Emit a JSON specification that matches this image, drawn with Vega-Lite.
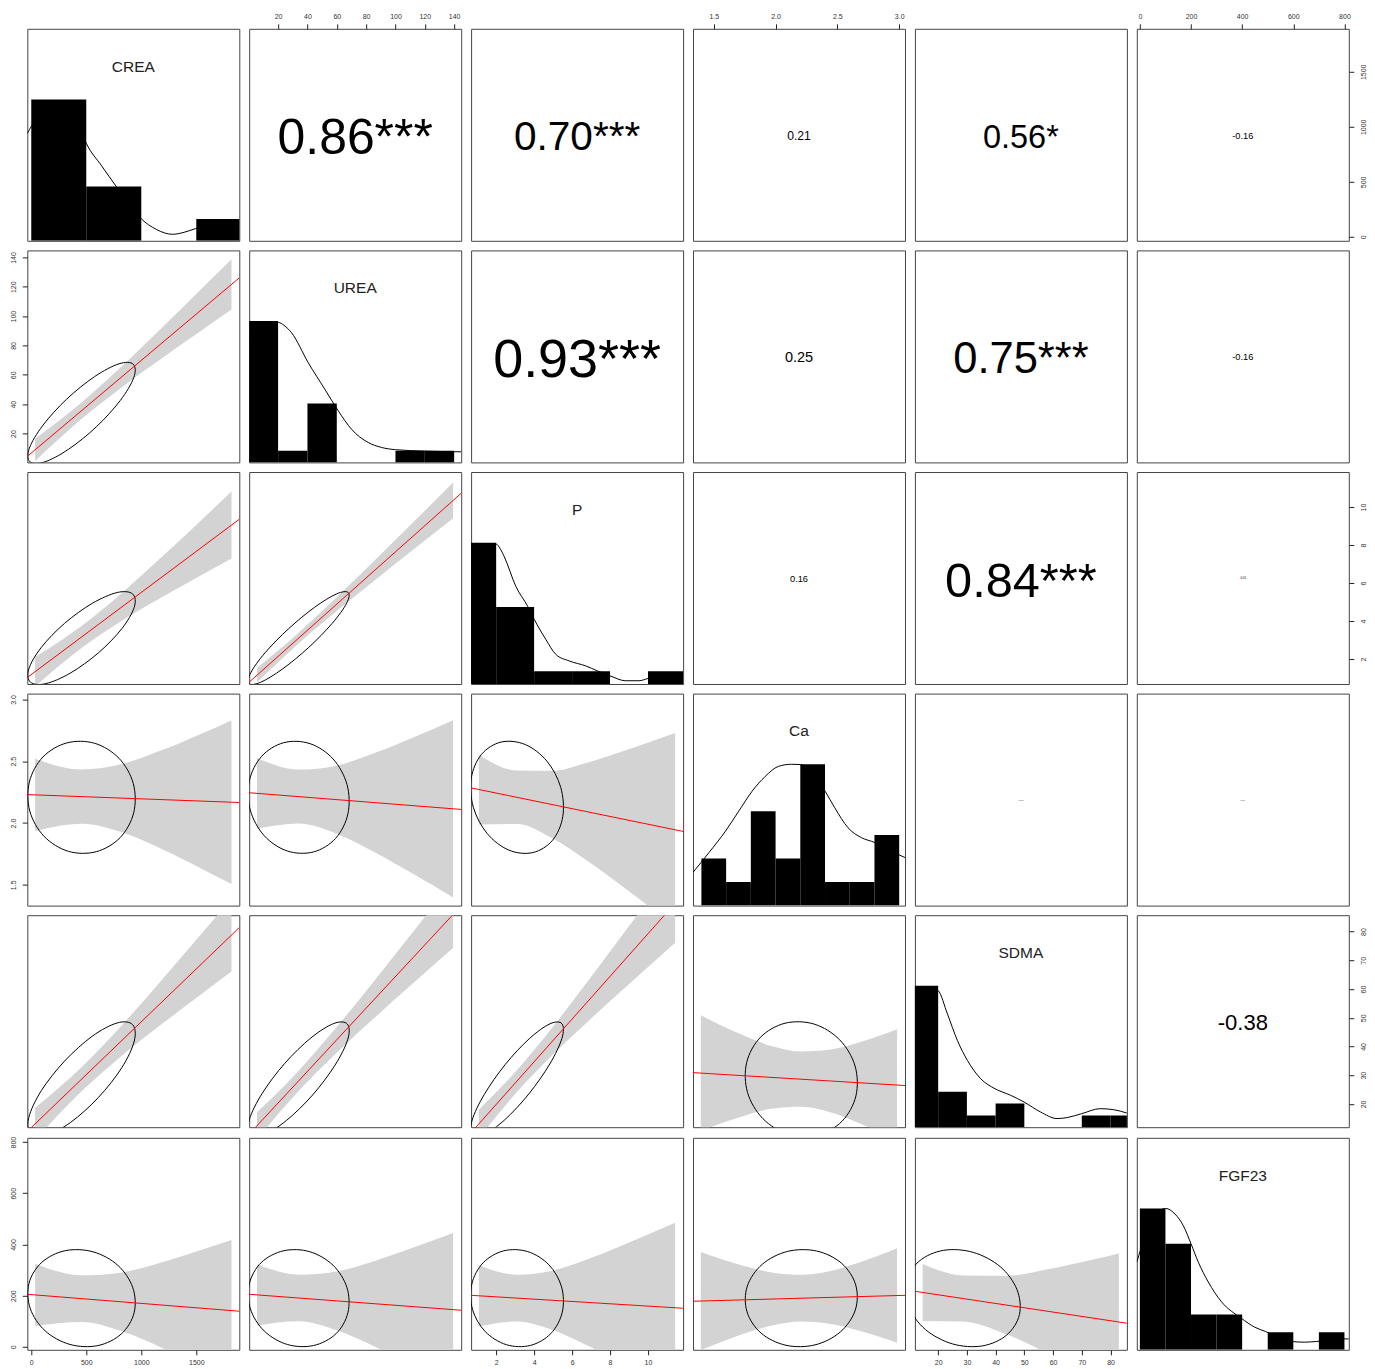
{
"$schema":"https://vega.github.io/schema/vega-lite/v6.json",
"background":"white",
"padding":{"left":8.3,"top":11.8,"right":4,"bottom":3},
"data":{"name":"d"},
"datasets":{"d":[
{"p":"11","k":"h","x":0,"x2":500,"y":1},{"p":"11","k":"h","x":500,"x2":1000,"y":0.385},{"p":"11","k":"h","x":1500,"x2":2000,"y":0.154},
{"p":"11","k":"d","x":-36,"y":0.76},{"p":"11","k":"d","x":50,"y":0.87},{"p":"11","k":"d","x":150,"y":0.96},{"p":"11","k":"d","x":250,"y":0.985},{"p":"11","k":"d","x":350,"y":0.93},{"p":"11","k":"d","x":430,"y":0.82},{"p":"11","k":"d","x":500,"y":0.69},{"p":"11","k":"d","x":640,"y":0.53},{"p":"11","k":"d","x":771,"y":0.386},{"p":"11","k":"d","x":900,"y":0.25},{"p":"11","k":"d","x":1000,"y":0.156},{"p":"11","k":"d","x":1136,"y":0.081},{"p":"11","k":"d","x":1283,"y":0.046},{"p":"11","k":"d","x":1389,"y":0.06},{"p":"11","k":"d","x":1492,"y":0.086},{"p":"11","k":"d","x":1650,"y":0.12},{"p":"11","k":"d","x":1780,"y":0.13},{"p":"11","k":"d","x":1891,"y":0.11},
{"p":"11","k":"l","x":927.5,"y":1.232,"t":"CREA"},
{"p":"22","k":"h","x":0,"x2":20,"y":1},{"p":"22","k":"h","x":20,"x2":40,"y":0.083},{"p":"22","k":"h","x":40,"x2":60,"y":0.417},{"p":"22","k":"h","x":100,"x2":120,"y":0.083},{"p":"22","k":"h","x":120,"x2":140,"y":0.083},
{"p":"22","k":"d","x":0.3,"y":0.85},{"p":"22","k":"d","x":10,"y":0.95},{"p":"22","k":"d","x":16,"y":0.985},{"p":"22","k":"d","x":20.2,"y":0.99},{"p":"22","k":"d","x":24,"y":0.97},{"p":"22","k":"d","x":29.2,"y":0.917},{"p":"22","k":"d","x":40.5,"y":0.706},{"p":"22","k":"d","x":51.9,"y":0.517},{"p":"22","k":"d","x":61,"y":0.365},{"p":"22","k":"d","x":70,"y":0.235},{"p":"22","k":"d","x":81.4,"y":0.141},{"p":"22","k":"d","x":90.4,"y":0.106},{"p":"22","k":"d","x":100,"y":0.09},{"p":"22","k":"d","x":120,"y":0.08},{"p":"22","k":"d","x":144.8,"y":0.075},
{"p":"22","k":"l","x":72.55,"y":1.232,"t":"UREA"},
{"p":"33","k":"h","x":0,"x2":2,"y":1},{"p":"33","k":"h","x":2,"x2":4,"y":0.545},{"p":"33","k":"h","x":4,"x2":6,"y":0.091},{"p":"33","k":"h","x":6,"x2":8,"y":0.091},{"p":"33","k":"h","x":10,"x2":12,"y":0.091},
{"p":"33","k":"d","x":0.68,"y":0.8},{"p":"33","k":"d","x":1.3,"y":0.94},{"p":"33","k":"d","x":1.8,"y":0.985},{"p":"33","k":"d","x":2.0,"y":0.99},{"p":"33","k":"d","x":2.2,"y":0.96},{"p":"33","k":"d","x":2.43,"y":0.9},{"p":"33","k":"d","x":3.04,"y":0.69},{"p":"33","k":"d","x":3.66,"y":0.55},{"p":"33","k":"d","x":4.01,"y":0.456},{"p":"33","k":"d","x":4.62,"y":0.315},{"p":"33","k":"d","x":5.14,"y":0.21},{"p":"33","k":"d","x":5.85,"y":0.163},{"p":"33","k":"d","x":6.72,"y":0.128},{"p":"33","k":"d","x":7.33,"y":0.093},{"p":"33","k":"d","x":8.0,"y":0.058},{"p":"33","k":"d","x":8.82,"y":0.023},{"p":"33","k":"d","x":9.52,"y":0.023},{"p":"33","k":"d","x":10.0,"y":0.039},{"p":"33","k":"d","x":11.0,"y":0.07},{"p":"33","k":"d","x":11.85,"y":0.08},
{"p":"33","k":"l","x":6.265,"y":1.232,"t":"P"},
{"p":"44","k":"h","x":1.4,"x2":1.6,"y":0.333},{"p":"44","k":"h","x":1.6,"x2":1.8,"y":0.167},{"p":"44","k":"h","x":1.8,"x2":2.0,"y":0.667},{"p":"44","k":"h","x":2.0,"x2":2.2,"y":0.333},{"p":"44","k":"h","x":2.2,"x2":2.4,"y":1},{"p":"44","k":"h","x":2.4,"x2":2.6,"y":0.167},{"p":"44","k":"h","x":2.6,"x2":2.8,"y":0.167},{"p":"44","k":"h","x":2.8,"x2":3.0,"y":0.5},
{"p":"44","k":"d","x":1.332,"y":0.235},{"p":"44","k":"d","x":1.461,"y":0.375},{"p":"44","k":"d","x":1.595,"y":0.527},{"p":"44","k":"d","x":1.702,"y":0.668},{"p":"44","k":"d","x":1.81,"y":0.809},{"p":"44","k":"d","x":1.916,"y":0.914},{"p":"44","k":"d","x":2.023,"y":0.985},{"p":"44","k":"d","x":2.13,"y":1.0},{"p":"44","k":"d","x":2.2,"y":0.998},{"p":"44","k":"d","x":2.3,"y":0.94},{"p":"44","k":"d","x":2.401,"y":0.809},{"p":"44","k":"d","x":2.479,"y":0.692},{"p":"44","k":"d","x":2.586,"y":0.551},{"p":"44","k":"d","x":2.694,"y":0.481},{"p":"44","k":"d","x":2.803,"y":0.446},{"p":"44","k":"d","x":2.9,"y":0.4},{"p":"44","k":"d","x":3.047,"y":0.34},
{"p":"44","k":"l","x":2.1895,"y":1.232,"t":"Ca"},
{"p":"55","k":"h","x":10,"x2":20,"y":1},{"p":"55","k":"h","x":20,"x2":30,"y":0.25},{"p":"55","k":"h","x":30,"x2":40,"y":0.083},{"p":"55","k":"h","x":40,"x2":50,"y":0.167},{"p":"55","k":"h","x":70,"x2":80,"y":0.083},{"p":"55","k":"h","x":80,"x2":90,"y":0.083},
{"p":"55","k":"d","x":11.9,"y":0.8},{"p":"55","k":"d","x":15,"y":0.95},{"p":"55","k":"d","x":18,"y":0.985},{"p":"55","k":"d","x":20.02,"y":0.966},{"p":"55","k":"d","x":23.25,"y":0.8},{"p":"55","k":"d","x":26.7,"y":0.613},{"p":"55","k":"d","x":30.2,"y":0.472},{"p":"55","k":"d","x":34.8,"y":0.343},{"p":"55","k":"d","x":39.8,"y":0.272},{"p":"55","k":"d","x":45.2,"y":0.226},{"p":"55","k":"d","x":49.9,"y":0.178},{"p":"55","k":"d","x":55.6,"y":0.108},{"p":"55","k":"d","x":61.4,"y":0.061},{"p":"55","k":"d","x":64.9,"y":0.068},{"p":"55","k":"d","x":70,"y":0.096},{"p":"55","k":"d","x":76.4,"y":0.131},{"p":"55","k":"d","x":81.1,"y":0.124},{"p":"55","k":"d","x":85.7,"y":0.1},
{"p":"55","k":"l","x":48.8,"y":1.232,"t":"SDMA"},
{"p":"66","k":"h","x":0,"x2":100,"y":1},{"p":"66","k":"h","x":100,"x2":200,"y":0.75},{"p":"66","k":"h","x":200,"x2":300,"y":0.25},{"p":"66","k":"h","x":300,"x2":400,"y":0.25},{"p":"66","k":"h","x":500,"x2":600,"y":0.125},{"p":"66","k":"h","x":700,"x2":800,"y":0.125},
{"p":"66","k":"d","x":-12,"y":0.62},{"p":"66","k":"d","x":20,"y":0.8},{"p":"66","k":"d","x":60,"y":0.95},{"p":"66","k":"d","x":101,"y":1.0},{"p":"66","k":"d","x":137.6,"y":0.96},{"p":"66","k":"d","x":170,"y":0.878},{"p":"66","k":"d","x":200,"y":0.75},{"p":"66","k":"d","x":228.5,"y":0.62},{"p":"66","k":"d","x":267.4,"y":0.48},{"p":"66","k":"d","x":319,"y":0.34},{"p":"66","k":"d","x":397,"y":0.223},{"p":"66","k":"d","x":449,"y":0.16},{"p":"66","k":"d","x":492,"y":0.129},{"p":"66","k":"d","x":540,"y":0.09},{"p":"66","k":"d","x":592,"y":0.059},{"p":"66","k":"d","x":644,"y":0.054},{"p":"66","k":"d","x":692,"y":0.059},{"p":"66","k":"d","x":750,"y":0.07},{"p":"66","k":"d","x":793,"y":0.077},{"p":"66","k":"d","x":817,"y":0.077},
{"p":"66","k":"l","x":402.5,"y":1.232,"t":"FGF23"},
{"p":"12","k":"c","x":72.55,"y":927.5,"t":"0.86***","a":0.86},
{"p":"13","k":"c","x":6.265,"y":927.5,"t":"0.70***","a":0.70},
{"p":"14","k":"c","x":2.1895,"y":927.5,"t":"0.21","a":0.21},
{"p":"15","k":"c","x":48.8,"y":927.5,"t":"0.56*","a":0.56},
{"p":"16","k":"c","x":402.5,"y":927.5,"t":"-0.16","a":0.16},
{"p":"23","k":"c","x":6.265,"y":72.55,"t":"0.93***","a":0.93},
{"p":"24","k":"c","x":2.1895,"y":72.55,"t":"0.25","a":0.25},
{"p":"25","k":"c","x":48.8,"y":72.55,"t":"0.75***","a":0.75},
{"p":"26","k":"c","x":402.5,"y":72.55,"t":"-0.16","a":0.16},
{"p":"34","k":"c","x":2.1895,"y":6.265,"t":"0.16","a":0.16},
{"p":"35","k":"c","x":48.8,"y":6.265,"t":"0.84***","a":0.84},
{"p":"36","k":"c","x":402.5,"y":6.265,"t":"-0.05","a":0.05},
{"p":"45","k":"c","x":48.8,"y":2.1895,"t":"-0.04","a":0.04},
{"p":"46","k":"c","x":402.5,"y":2.1895,"t":"0.04","a":0.04},
{"p":"56","k":"c","x":402.5,"y":48.8,"t":"-0.38","a":0.38},
{"p":"21","k":"b","x":35,"y":1.31,"y2":16.45},{"p":"21","k":"b","x":457,"y":29.86,"y2":41.2},{"p":"21","k":"b","x":824,"y":51.55,"y2":65.87},{"p":"21","k":"b","x":1190,"y":71.43,"y2":92.23},{"p":"21","k":"b","x":1557,"y":90.74,"y2":119.28},{"p":"21","k":"b","x":1820,"y":104.45,"y2":138.79},
{"p":"21","k":"r","x":-36,"y":4.4},{"p":"21","k":"r","x":1891,"y":126.1},
{"p":"21","k":"e","o":0,"x":927.4,"y":67.2},{"p":"21","k":"e","o":1,"x":797.3,"y":67.5},{"p":"21","k":"e","o":2,"x":576.3,"y":58.8},{"p":"21","k":"e","o":3,"x":323.0,"y":43.5},{"p":"21","k":"e","o":4,"x":105.9,"y":25.6},{"p":"21","k":"e","o":5,"x":-17.3,"y":10.0},{"p":"21","k":"e","o":6,"x":-13.4,"y":0.8},{"p":"21","k":"e","o":7,"x":116.7,"y":0.5},{"p":"21","k":"e","o":8,"x":337.7,"y":9.2},{"p":"21","k":"e","o":9,"x":591.0,"y":24.5},{"p":"21","k":"e","o":10,"x":808.1,"y":42.4},{"p":"21","k":"e","o":11,"x":931.3,"y":58.0},
{"p":"31","k":"b","x":35,"y":0.549,"y2":2.105},{"p":"31","k":"b","x":457,"y":2.571,"y2":3.735},{"p":"31","k":"b","x":824,"y":4.008,"y2":5.476},{"p":"31","k":"b","x":1190,"y":5.258,"y2":7.394},{"p":"31","k":"b","x":1557,"y":6.451,"y2":9.379},{"p":"31","k":"b","x":1820,"y":7.29,"y2":10.816},
{"p":"31","k":"r","x":-36,"y":1.02},{"p":"31","k":"r","x":1891,"y":9.36},
{"p":"31","k":"e","o":0,"x":921.1,"y":5.425},{"p":"31","k":"e","o":1,"x":781.7,"y":5.501},{"p":"31","k":"e","o":2,"x":555.3,"y":4.933},{"p":"31","k":"e","o":3,"x":302.5,"y":3.874},{"p":"31","k":"e","o":4,"x":91.2,"y":2.608},{"p":"31","k":"e","o":5,"x":-22.2,"y":1.473},{"p":"31","k":"e","o":6,"x":-7.1,"y":0.775},{"p":"31","k":"e","o":7,"x":132.3,"y":0.699},{"p":"31","k":"e","o":8,"x":358.7,"y":1.267},{"p":"31","k":"e","o":9,"x":611.5,"y":2.326},{"p":"31","k":"e","o":10,"x":822.8,"y":3.592},{"p":"31","k":"e","o":11,"x":936.2,"y":4.727},
{"p":"32","k":"b","x":5.6,"y":0.766,"y2":1.52},{"p":"32","k":"b","x":34,"y":2.812,"y2":3.386},{"p":"32","k":"b","x":59.9,"y":4.521,"y2":5.245},{"p":"32","k":"b","x":85.75,"y":6.136,"y2":7.19},{"p":"32","k":"b","x":111.6,"y":7.721,"y2":9.165},{"p":"32","k":"b","x":139.3,"y":9.408,"y2":11.294},
{"p":"32","k":"r","x":0.3,"y":0.778},{"p":"32","k":"r","x":144.8,"y":10.73},
{"p":"32","k":"e","o":0,"x":67.8,"y":5.501},{"p":"32","k":"e","o":1,"x":59.8,"y":5.425},{"p":"32","k":"e","o":2,"x":44.9,"y":4.724},{"p":"32","k":"e","o":3,"x":27.1,"y":3.59},{"p":"32","k":"e","o":4,"x":11.1,"y":2.323},{"p":"32","k":"e","o":5,"x":1.3,"y":1.265},{"p":"32","k":"e","o":6,"x":0.2,"y":0.699},{"p":"32","k":"e","o":7,"x":8.2,"y":0.775},{"p":"32","k":"e","o":8,"x":23.1,"y":1.476},{"p":"32","k":"e","o":9,"x":40.9,"y":2.61},{"p":"32","k":"e","o":10,"x":56.9,"y":3.877},{"p":"32","k":"e","o":11,"x":66.7,"y":4.935},
{"p":"41","k":"b","x":35,"y":1.936,"y2":2.52},{"p":"41","k":"b","x":457,"y":1.995,"y2":2.433},{"p":"41","k":"b","x":824,"y":1.925,"y2":2.477},{"p":"41","k":"b","x":1190,"y":1.788,"y2":2.59},{"p":"41","k":"b","x":1557,"y":1.627,"y2":2.727},{"p":"41","k":"b","x":1820,"y":1.506,"y2":2.83},
{"p":"41","k":"r","x":-36,"y":2.23},{"p":"41","k":"r","x":1891,"y":2.166},
{"p":"41","k":"e","o":0,"x":797.3,"y":2.524},{"p":"41","k":"e","o":1,"x":576.3,"y":2.645},{"p":"41","k":"e","o":2,"x":323.5,"y":2.648},{"p":"41","k":"e","o":3,"x":105.9,"y":2.534},{"p":"41","k":"e","o":4,"x":-17.3,"y":2.332},{"p":"41","k":"e","o":5,"x":-13.4,"y":2.097},{"p":"41","k":"e","o":6,"x":116.7,"y":1.892},{"p":"41","k":"e","o":7,"x":337.7,"y":1.771},{"p":"41","k":"e","o":8,"x":590.5,"y":1.768},{"p":"41","k":"e","o":9,"x":808.1,"y":1.882},{"p":"41","k":"e","o":10,"x":931.3,"y":2.084},{"p":"41","k":"e","o":11,"x":927.4,"y":2.319},
{"p":"42","k":"b","x":5.6,"y":1.953,"y2":2.527},{"p":"42","k":"b","x":34,"y":1.996,"y2":2.432},{"p":"42","k":"b","x":59.9,"y":1.914,"y2":2.464},{"p":"42","k":"b","x":85.75,"y":1.764,"y2":2.566},{"p":"42","k":"b","x":111.6,"y":1.592,"y2":2.69},{"p":"42","k":"b","x":139.3,"y":1.398,"y2":2.832},
{"p":"42","k":"r","x":0.3,"y":2.245},{"p":"42","k":"r","x":144.8,"y":2.11},
{"p":"42","k":"e","o":0,"x":57.5,"y":2.518},{"p":"42","k":"e","o":1,"x":41.8,"y":2.642},{"p":"42","k":"e","o":2,"x":23.9,"y":2.65},{"p":"42","k":"e","o":3,"x":8.8,"y":2.54},{"p":"42","k":"e","o":4,"x":0.4,"y":2.341},{"p":"42","k":"e","o":5,"x":1.0,"y":2.106},{"p":"42","k":"e","o":6,"x":10.5,"y":1.898},{"p":"42","k":"e","o":7,"x":26.2,"y":1.774},{"p":"42","k":"e","o":8,"x":44.1,"y":1.766},{"p":"42","k":"e","o":9,"x":59.2,"y":1.876},{"p":"42","k":"e","o":10,"x":67.6,"y":2.075},{"p":"42","k":"e","o":11,"x":67.0,"y":2.31},
{"p":"43","k":"b","x":1.09,"y":1.989,"y2":2.553},{"p":"43","k":"b","x":3.1,"y":1.992,"y2":2.424},{"p":"43","k":"b","x":4.94,"y":1.878,"y2":2.422},{"p":"43","k":"b","x":6.78,"y":1.696,"y2":2.488},{"p":"43","k":"b","x":8.61,"y":1.492,"y2":2.576},{"p":"43","k":"b","x":11.43,"y":1.162,"y2":2.728},
{"p":"43","k":"r","x":0.68,"y":2.284},{"p":"43","k":"r","x":11.85,"y":1.932},
{"p":"43","k":"e","o":0,"x":4.678,"y":2.5},{"p":"43","k":"e","o":1,"x":3.531,"y":2.635},{"p":"43","k":"e","o":2,"x":2.267,"y":2.655},{"p":"43","k":"e","o":3,"x":1.226,"y":2.555},{"p":"43","k":"e","o":4,"x":0.687,"y":2.362},{"p":"43","k":"e","o":5,"x":0.797,"y":2.128},{"p":"43","k":"e","o":6,"x":1.522,"y":1.916},{"p":"43","k":"e","o":7,"x":2.669,"y":1.781},{"p":"43","k":"e","o":8,"x":3.933,"y":1.761},{"p":"43","k":"e","o":9,"x":4.974,"y":1.861},{"p":"43","k":"e","o":10,"x":5.513,"y":2.054},{"p":"43","k":"e","o":11,"x":5.403,"y":2.288},
{"p":"51","k":"b","x":35,"y":7.45,"y2":18.67},{"p":"51","k":"b","x":457,"y":24.4,"y2":32.8},{"p":"51","k":"b","x":824,"y":36.81,"y2":47.41},{"p":"51","k":"b","x":1190,"y":47.88,"y2":63.3},{"p":"51","k":"b","x":1557,"y":58.53,"y2":79.67},{"p":"51","k":"b","x":1820,"y":66.07,"y2":91.51},
{"p":"51","k":"r","x":-36,"y":10.45},{"p":"51","k":"r","x":1891,"y":81.4},
{"p":"51","k":"e","o":0,"x":921.1,"y":47.6},{"p":"51","k":"e","o":1,"x":781.7,"y":48.2},{"p":"51","k":"e","o":2,"x":555.3,"y":43.6},{"p":"51","k":"e","o":3,"x":302.5,"y":34.9},{"p":"51","k":"e","o":4,"x":91.2,"y":24.6},{"p":"51","k":"e","o":5,"x":-22.2,"y":15.3},{"p":"51","k":"e","o":6,"x":-7.1,"y":9.6},{"p":"51","k":"e","o":7,"x":132.3,"y":9.0},{"p":"51","k":"e","o":8,"x":358.7,"y":13.6},{"p":"51","k":"e","o":9,"x":611.5,"y":22.3},{"p":"51","k":"e","o":10,"x":822.8,"y":32.6},{"p":"51","k":"e","o":11,"x":936.2,"y":41.9},
{"p":"52","k":"b","x":5.6,"y":7.77,"y2":17.07},{"p":"52","k":"b","x":34,"y":24.5,"y2":31.58},{"p":"52","k":"b","x":59.9,"y":37.82,"y2":46.76},{"p":"52","k":"b","x":85.75,"y":50.01,"y2":63.01},{"p":"52","k":"b","x":111.6,"y":61.82,"y2":79.64},{"p":"52","k":"b","x":139.3,"y":74.34,"y2":97.6},
{"p":"52","k":"r","x":0.3,"y":9.5},{"p":"52","k":"r","x":144.8,"y":89},
{"p":"52","k":"e","o":0,"x":67.2,"y":47.8},{"p":"52","k":"e","o":1,"x":58.0,"y":48.0},{"p":"52","k":"e","o":2,"x":42.4,"y":43.0},{"p":"52","k":"e","o":3,"x":24.5,"y":34.1},{"p":"52","k":"e","o":4,"x":9.2,"y":23.7},{"p":"52","k":"e","o":5,"x":0.5,"y":14.7},{"p":"52","k":"e","o":6,"x":0.8,"y":9.4},{"p":"52","k":"e","o":7,"x":10.0,"y":9.2},{"p":"52","k":"e","o":8,"x":25.6,"y":14.2},{"p":"52","k":"e","o":9,"x":43.5,"y":23.1},{"p":"52","k":"e","o":10,"x":58.8,"y":33.5},{"p":"52","k":"e","o":11,"x":67.5,"y":42.5},
{"p":"53","k":"b","x":1.09,"y":8.11,"y2":17.99},{"p":"53","k":"b","x":3.1,"y":24.21,"y2":31.77},{"p":"53","k":"b","x":4.94,"y":36.89,"y2":46.43},{"p":"53","k":"b","x":6.78,"y":48.39,"y2":62.27},{"p":"53","k":"b","x":8.61,"y":59.41,"y2":78.43},{"p":"53","k":"b","x":11.43,"y":76.15,"y2":103.61},
{"p":"53","k":"r","x":0.68,"y":10},{"p":"53","k":"r","x":11.85,"y":93},
{"p":"53","k":"e","o":0,"x":5.469,"y":47.9},{"p":"53","k":"e","o":1,"x":4.84,"y":47.9},{"p":"53","k":"e","o":2,"x":3.744,"y":42.7},{"p":"53","k":"e","o":3,"x":2.475,"y":33.7},{"p":"53","k":"e","o":4,"x":1.375,"y":23.3},{"p":"53","k":"e","o":5,"x":0.736,"y":14.4},{"p":"53","k":"e","o":6,"x":0.731,"y":9.3},{"p":"53","k":"e","o":7,"x":1.36,"y":9.3},{"p":"53","k":"e","o":8,"x":2.456,"y":14.5},{"p":"53","k":"e","o":9,"x":3.725,"y":23.5},{"p":"53","k":"e","o":10,"x":4.825,"y":33.9},{"p":"53","k":"e","o":11,"x":5.464,"y":42.8},
{"p":"54","k":"b","x":1.395,"y":10.61,"y2":50.85},{"p":"54","k":"b","x":1.663,"y":14.77,"y2":45.29},{"p":"54","k":"b","x":1.981,"y":18.39,"y2":40.01},{"p":"54","k":"b","x":2.208,"y":18.98,"y2":38.22},{"p":"54","k":"b","x":2.435,"y":17.2,"y2":38.82},{"p":"54","k":"b","x":2.707,"y":12.78,"y2":41.8},{"p":"54","k":"b","x":2.983,"y":7.17,"y2":45.97},
{"p":"54","k":"r","x":1.332,"y":30.9},{"p":"54","k":"r","x":3.047,"y":26.4},
{"p":"54","k":"e","o":0,"x":2.519,"y":42.3},{"p":"54","k":"e","o":1,"x":2.312,"y":47.8},{"p":"54","k":"e","o":2,"x":2.077,"y":48.1},{"p":"54","k":"e","o":3,"x":1.878,"y":43.2},{"p":"54","k":"e","o":4,"x":1.766,"y":34.4},{"p":"54","k":"e","o":5,"x":1.773,"y":24.0},{"p":"54","k":"e","o":6,"x":1.897,"y":14.9},{"p":"54","k":"e","o":7,"x":2.104,"y":9.4},{"p":"54","k":"e","o":8,"x":2.339,"y":9.1},{"p":"54","k":"e","o":9,"x":2.538,"y":14.0},{"p":"54","k":"e","o":10,"x":2.65,"y":22.8},{"p":"54","k":"e","o":11,"x":2.643,"y":33.2},
{"p":"61","k":"b","x":35,"y":80.8,"y2":324.4},{"p":"61","k":"b","x":457,"y":96.9,"y2":279.3},{"p":"61","k":"b","x":824,"y":60.4,"y2":290.6},{"p":"61","k":"b","x":1190,"y":-4.5,"y2":330.3},{"p":"61","k":"b","x":1557,"y":-79.2,"y2":379.8},{"p":"61","k":"b","x":1820,"y":-135,"y2":417.4},
{"p":"61","k":"r","x":-36,"y":205},{"p":"61","k":"r","x":1891,"y":138.8},
{"p":"61","k":"e","o":0,"x":787.1,"y":318.3},{"p":"61","k":"e","o":1,"x":562.1,"y":371.1},{"p":"61","k":"e","o":2,"x":309.3,"y":375.6},{"p":"61","k":"e","o":3,"x":96.1,"y":330.2},{"p":"61","k":"e","o":4,"x":-20.8,"y":247.4},{"p":"61","k":"e","o":5,"x":-9.0,"y":149.2},{"p":"61","k":"e","o":6,"x":126.9,"y":61.8},{"p":"61","k":"e","o":7,"x":351.9,"y":8.9},{"p":"61","k":"e","o":8,"x":604.7,"y":4.4},{"p":"61","k":"e","o":9,"x":817.9,"y":49.8},{"p":"61","k":"e","o":10,"x":934.8,"y":132.6},{"p":"61","k":"e","o":11,"x":923.0,"y":230.9},
{"p":"62","k":"b","x":5.6,"y":82.8,"y2":322.6},{"p":"62","k":"b","x":34,"y":99.2,"y2":281.8},{"p":"62","k":"b","x":59.9,"y":64.1,"y2":294.5},{"p":"62","k":"b","x":85.75,"y":0.7,"y2":335.7},{"p":"62","k":"b","x":111.6,"y":-72.7,"y2":386.7},{"p":"62","k":"b","x":139.3,"y":-154.9,"y2":445.1},
{"p":"62","k":"r","x":0.3,"y":205},{"p":"62","k":"r","x":144.8,"y":142.7},
{"p":"62","k":"e","o":0,"x":57.4,"y":318.8},{"p":"62","k":"e","o":1,"x":41.6,"y":371.5},{"p":"62","k":"e","o":2,"x":23.8,"y":375.3},{"p":"62","k":"e","o":3,"x":8.6,"y":329.7},{"p":"62","k":"e","o":4,"x":0.4,"y":246.4},{"p":"62","k":"e","o":5,"x":1.1,"y":148.2},{"p":"62","k":"e","o":6,"x":10.6,"y":61.2},{"p":"62","k":"e","o":7,"x":26.4,"y":8.6},{"p":"62","k":"e","o":8,"x":44.2,"y":4.8},{"p":"62","k":"e","o":9,"x":59.4,"y":50.4},{"p":"62","k":"e","o":10,"x":67.6,"y":133.6},{"p":"62","k":"e","o":11,"x":66.9,"y":231.8},
{"p":"63","k":"b","x":1.09,"y":79.6,"y2":318.8},{"p":"63","k":"b","x":3.1,"y":98.7,"y2":281.5},{"p":"63","k":"b","x":4.94,"y":66.4,"y2":297.0},{"p":"63","k":"b","x":6.78,"y":5.7,"y2":341.1},{"p":"63","k":"b","x":8.61,"y":-64.9,"y2":395.2},{"p":"63","k":"b","x":11.43,"y":-179.6,"y2":484.4},
{"p":"63","k":"r","x":0.68,"y":201},{"p":"63","k":"r","x":11.85,"y":150.5},
{"p":"63","k":"e","o":0,"x":4.781,"y":320.3},{"p":"63","k":"e","o":1,"x":3.664,"y":372.0},{"p":"63","k":"e","o":2,"x":2.394,"y":374.9},{"p":"63","k":"e","o":3,"x":1.316,"y":328.3},{"p":"63","k":"e","o":4,"x":0.716,"y":244.7},{"p":"63","k":"e","o":5,"x":0.753,"y":146.3},{"p":"63","k":"e","o":6,"x":1.419,"y":59.7},{"p":"63","k":"e","o":7,"x":2.537,"y":8.0},{"p":"63","k":"e","o":8,"x":3.806,"y":5.1},{"p":"63","k":"e","o":9,"x":4.884,"y":51.7},{"p":"63","k":"e","o":10,"x":5.484,"y":135.3},{"p":"63","k":"e","o":11,"x":5.447,"y":233.7},
{"p":"64","k":"b","x":1.395,"y":-12.8,"y2":370.1},{"p":"64","k":"b","x":1.663,"y":37.2,"y2":327.4},{"p":"64","k":"b","x":1.981,"y":83.8,"y2":289.4},{"p":"64","k":"b","x":2.208,"y":98.2,"y2":281.2},{"p":"64","k":"b","x":2.435,"y":89.9,"y2":295.5},{"p":"64","k":"b","x":2.707,"y":58.4,"y2":334.4},{"p":"64","k":"b","x":2.983,"y":15.5,"y2":384.7},
{"p":"64","k":"r","x":1.332,"y":177.8},{"p":"64","k":"r","x":3.047,"y":201},
{"p":"64","k":"e","o":0,"x":2.534,"y":326.4},{"p":"64","k":"e","o":1,"x":2.332,"y":374.3},{"p":"64","k":"e","o":2,"x":2.097,"y":372.8},{"p":"64","k":"e","o":3,"x":1.892,"y":322.2},{"p":"64","k":"e","o":4,"x":1.771,"y":236.4},{"p":"64","k":"e","o":5,"x":1.768,"y":138.1},{"p":"64","k":"e","o":6,"x":1.882,"y":53.6},{"p":"64","k":"e","o":7,"x":2.084,"y":5.7},{"p":"64","k":"e","o":8,"x":2.319,"y":7.2},{"p":"64","k":"e","o":9,"x":2.524,"y":57.8},{"p":"64","k":"e","o":10,"x":2.645,"y":143.6},{"p":"64","k":"e","o":11,"x":2.648,"y":241.9},
{"p":"65","k":"b","x":14.6,"y":100.9,"y2":323.5},{"p":"65","k":"b","x":28.6,"y":98.2,"y2":279.0},{"p":"65","k":"b","x":43.6,"y":49.1,"y2":277.3},{"p":"65","k":"b","x":58.6,"y":-28.1,"y2":303.7},{"p":"65","k":"b","x":73.6,"y":-114.9,"y2":339.9},{"p":"65","k":"b","x":82.9,"y":-170.9,"y2":364.3},
{"p":"65","k":"r","x":11.9,"y":216.8},{"p":"65","k":"r","x":85.7,"y":92},
{"p":"65","k":"e","o":0,"x":41.6,"y":313.1},{"p":"65","k":"e","o":1,"x":32.2,"y":369.0},{"p":"65","k":"e","o":2,"x":21.9,"y":377.0},{"p":"65","k":"e","o":3,"x":13.4,"y":334.8},{"p":"65","k":"e","o":4,"x":8.9,"y":253.8},{"p":"65","k":"e","o":5,"x":9.8,"y":155.6},{"p":"65","k":"e","o":6,"x":15.6,"y":66.9},{"p":"65","k":"e","o":7,"x":25.0,"y":11.0},{"p":"65","k":"e","o":8,"x":35.3,"y":3.0},{"p":"65","k":"e","o":9,"x":43.8,"y":45.2},{"p":"65","k":"e","o":10,"x":48.3,"y":126.2},{"p":"65","k":"e","o":11,"x":47.4,"y":224.4}
]},
"columns":6,
"spacing":{"row":7.6,"column":7.9},
"concat":[
{"width":212,"height":212,"transform":[{"filter":"datum.p=='11'"}],"encoding":{"x":{"field":"x","type":"quantitative","title":null,"scale":{"domain":[-36,1891],"nice":false,"zero":false},"axis":null},"y":{"field":"y","type":"quantitative","title":null,"scale":{"domain":[0,1.5],"nice":false,"zero":false},"axis":null}},"layer":[
 {"transform":[{"filter":"datum.k=='h'"}],"mark":{"type":"rect","color":"#000","clip":true},"encoding":{"x2":{"field":"x2"},"y2":{"datum":0}}},
 {"transform":[{"filter":"datum.k=='d'"}],"mark":{"type":"line","color":"#000","strokeWidth":1,"clip":true,"interpolate":"monotone"},"encoding":{}},
 {"transform":[{"filter":"datum.k=='l'"}],"mark":{"type":"text","fontSize":15.5,"color":"#222"},"encoding":{"text":{"field":"t"}}}]},
{"width":212,"height":212,"transform":[{"filter":"datum.p=='12'"}],"encoding":{"x":{"field":"x","type":"quantitative","title":null,"scale":{"domain":[0.3,144.8],"nice":false,"zero":false},"axis":{"orient":"top","values":[20,40,60,80,100,120,140],"format":"d"}},"y":{"field":"y","type":"quantitative","title":null,"scale":{"domain":[-36,1891],"nice":false,"zero":false},"axis":null}},"layer":[
 {"transform":[{"filter":"datum.k=='c'"}],"mark":{"type":"text","color":"#000","dy":4.5},"encoding":{"text":{"field":"t"},"size":{"field":"a","type":"quantitative","scale":{"domain":[0,1],"range":[0,58]},"legend":null}}}]},
{"width":212,"height":212,"transform":[{"filter":"datum.p=='13'"}],"encoding":{"x":{"field":"x","type":"quantitative","title":null,"scale":{"domain":[0.68,11.85],"nice":false,"zero":false},"axis":null},"y":{"field":"y","type":"quantitative","title":null,"scale":{"domain":[-36,1891],"nice":false,"zero":false},"axis":null}},"layer":[
 {"transform":[{"filter":"datum.k=='c'"}],"mark":{"type":"text","color":"#000","dy":3.7},"encoding":{"text":{"field":"t"},"size":{"field":"a","type":"quantitative","scale":{"domain":[0,1],"range":[0,58]},"legend":null}}}]},
{"width":212,"height":212,"transform":[{"filter":"datum.p=='14'"}],"encoding":{"x":{"field":"x","type":"quantitative","title":null,"scale":{"domain":[1.332,3.047],"nice":false,"zero":false},"axis":{"orient":"top","values":[1.5,2,2.5,3],"format":".1f"}},"y":{"field":"y","type":"quantitative","title":null,"scale":{"domain":[-36,1891],"nice":false,"zero":false},"axis":null}},"layer":[
 {"transform":[{"filter":"datum.k=='c'"}],"mark":{"type":"text","color":"#000","dy":1},"encoding":{"text":{"field":"t"},"size":{"field":"a","type":"quantitative","scale":{"domain":[0,1],"range":[0,58]},"legend":null}}}]},
{"width":212,"height":212,"transform":[{"filter":"datum.p=='15'"}],"encoding":{"x":{"field":"x","type":"quantitative","title":null,"scale":{"domain":[11.9,85.7],"nice":false,"zero":false},"axis":null},"y":{"field":"y","type":"quantitative","title":null,"scale":{"domain":[-36,1891],"nice":false,"zero":false},"axis":null}},"layer":[
 {"transform":[{"filter":"datum.k=='c'"}],"mark":{"type":"text","color":"#000","dy":2.9},"encoding":{"text":{"field":"t"},"size":{"field":"a","type":"quantitative","scale":{"domain":[0,1],"range":[0,58]},"legend":null}}}]},
{"width":212,"height":212,"transform":[{"filter":"datum.p=='16'"}],"encoding":{"x":{"field":"x","type":"quantitative","title":null,"scale":{"domain":[-12,817],"nice":false,"zero":false},"axis":{"orient":"top","values":[0,200,400,600,800],"format":"d"}},"y":{"field":"y","type":"quantitative","title":null,"scale":{"domain":[-36,1891],"nice":false,"zero":false},"axis":{"orient":"right","values":[0,500,1000,1500],"format":"d","labelAngle":-90,"labelAlign":"center","labelBaseline":"top"}}},"layer":[
 {"transform":[{"filter":"datum.k=='c'"}],"mark":{"type":"text","color":"#000","dy":1},"encoding":{"text":{"field":"t"},"size":{"field":"a","type":"quantitative","scale":{"domain":[0,1],"range":[0,58]},"legend":null}}}]},

{"width":212,"height":212,"transform":[{"filter":"datum.p=='21'"}],"encoding":{"x":{"field":"x","type":"quantitative","title":null,"scale":{"domain":[-36,1891],"nice":false,"zero":false},"axis":null},"y":{"field":"y","type":"quantitative","title":null,"scale":{"domain":[0.3,144.8],"nice":false,"zero":false},"axis":{"orient":"left","values":[20,40,60,80,100,120,140],"format":"d","labelAngle":-90,"labelAlign":"center","labelBaseline":"bottom"}}},"layer":[
 {"transform":[{"filter":"datum.k=='b'"}],"mark":{"type":"area","color":"#d3d3d3","opacity":1,"clip":true,"interpolate":"monotone"},"encoding":{"y2":{"field":"y2"}}},
 {"transform":[{"filter":"datum.k=='e'"}],"mark":{"type":"line","color":"#000","strokeWidth":1,"clip":true,"interpolate":"cardinal-closed"},"encoding":{"order":{"field":"o"}}},
 {"transform":[{"filter":"datum.k=='r'"}],"mark":{"type":"line","color":"#f00","strokeWidth":1,"clip":true},"encoding":{}}]},
{"width":212,"height":212,"transform":[{"filter":"datum.p=='22'"}],"encoding":{"x":{"field":"x","type":"quantitative","title":null,"scale":{"domain":[0.3,144.8],"nice":false,"zero":false},"axis":null},"y":{"field":"y","type":"quantitative","title":null,"scale":{"domain":[0,1.5],"nice":false,"zero":false},"axis":null}},"layer":[
 {"transform":[{"filter":"datum.k=='h'"}],"mark":{"type":"rect","color":"#000","clip":true},"encoding":{"x2":{"field":"x2"},"y2":{"datum":0}}},
 {"transform":[{"filter":"datum.k=='d'"}],"mark":{"type":"line","color":"#000","strokeWidth":1,"clip":true,"interpolate":"monotone"},"encoding":{}},
 {"transform":[{"filter":"datum.k=='l'"}],"mark":{"type":"text","fontSize":15.5,"color":"#222"},"encoding":{"text":{"field":"t"}}}]},
{"width":212,"height":212,"transform":[{"filter":"datum.p=='23'"}],"encoding":{"x":{"field":"x","type":"quantitative","title":null,"scale":{"domain":[0.68,11.85],"nice":false,"zero":false},"axis":null},"y":{"field":"y","type":"quantitative","title":null,"scale":{"domain":[0.3,144.8],"nice":false,"zero":false},"axis":null}},"layer":[
 {"transform":[{"filter":"datum.k=='c'"}],"mark":{"type":"text","color":"#000","dy":4.9},"encoding":{"text":{"field":"t"},"size":{"field":"a","type":"quantitative","scale":{"domain":[0,1],"range":[0,58]},"legend":null}}}]},
{"width":212,"height":212,"transform":[{"filter":"datum.p=='24'"}],"encoding":{"x":{"field":"x","type":"quantitative","title":null,"scale":{"domain":[1.332,3.047],"nice":false,"zero":false},"axis":null},"y":{"field":"y","type":"quantitative","title":null,"scale":{"domain":[0.3,144.8],"nice":false,"zero":false},"axis":null}},"layer":[
 {"transform":[{"filter":"datum.k=='c'"}],"mark":{"type":"text","color":"#000","dy":1.3},"encoding":{"text":{"field":"t"},"size":{"field":"a","type":"quantitative","scale":{"domain":[0,1],"range":[0,58]},"legend":null}}}]},
{"width":212,"height":212,"transform":[{"filter":"datum.p=='25'"}],"encoding":{"x":{"field":"x","type":"quantitative","title":null,"scale":{"domain":[11.9,85.7],"nice":false,"zero":false},"axis":null},"y":{"field":"y","type":"quantitative","title":null,"scale":{"domain":[0.3,144.8],"nice":false,"zero":false},"axis":null}},"layer":[
 {"transform":[{"filter":"datum.k=='c'"}],"mark":{"type":"text","color":"#000","dy":3.9},"encoding":{"text":{"field":"t"},"size":{"field":"a","type":"quantitative","scale":{"domain":[0,1],"range":[0,58]},"legend":null}}}]},
{"width":212,"height":212,"transform":[{"filter":"datum.p=='26'"}],"encoding":{"x":{"field":"x","type":"quantitative","title":null,"scale":{"domain":[-12,817],"nice":false,"zero":false},"axis":null},"y":{"field":"y","type":"quantitative","title":null,"scale":{"domain":[0.3,144.8],"nice":false,"zero":false},"axis":null}},"layer":[
 {"transform":[{"filter":"datum.k=='c'"}],"mark":{"type":"text","color":"#000","dy":1},"encoding":{"text":{"field":"t"},"size":{"field":"a","type":"quantitative","scale":{"domain":[0,1],"range":[0,58]},"legend":null}}}]},

{"width":212,"height":212,"transform":[{"filter":"datum.p=='31'"}],"encoding":{"x":{"field":"x","type":"quantitative","title":null,"scale":{"domain":[-36,1891],"nice":false,"zero":false},"axis":null},"y":{"field":"y","type":"quantitative","title":null,"scale":{"domain":[0.68,11.85],"nice":false,"zero":false},"axis":null}},"layer":[
 {"transform":[{"filter":"datum.k=='b'"}],"mark":{"type":"area","color":"#d3d3d3","opacity":1,"clip":true,"interpolate":"monotone"},"encoding":{"y2":{"field":"y2"}}},
 {"transform":[{"filter":"datum.k=='e'"}],"mark":{"type":"line","color":"#000","strokeWidth":1,"clip":true,"interpolate":"cardinal-closed"},"encoding":{"order":{"field":"o"}}},
 {"transform":[{"filter":"datum.k=='r'"}],"mark":{"type":"line","color":"#f00","strokeWidth":1,"clip":true},"encoding":{}}]},
{"width":212,"height":212,"transform":[{"filter":"datum.p=='32'"}],"encoding":{"x":{"field":"x","type":"quantitative","title":null,"scale":{"domain":[0.3,144.8],"nice":false,"zero":false},"axis":null},"y":{"field":"y","type":"quantitative","title":null,"scale":{"domain":[0.68,11.85],"nice":false,"zero":false},"axis":null}},"layer":[
 {"transform":[{"filter":"datum.k=='b'"}],"mark":{"type":"area","color":"#d3d3d3","opacity":1,"clip":true,"interpolate":"monotone"},"encoding":{"y2":{"field":"y2"}}},
 {"transform":[{"filter":"datum.k=='e'"}],"mark":{"type":"line","color":"#000","strokeWidth":1,"clip":true,"interpolate":"cardinal-closed"},"encoding":{"order":{"field":"o"}}},
 {"transform":[{"filter":"datum.k=='r'"}],"mark":{"type":"line","color":"#f00","strokeWidth":1,"clip":true},"encoding":{}}]},
{"width":212,"height":212,"transform":[{"filter":"datum.p=='33'"}],"encoding":{"x":{"field":"x","type":"quantitative","title":null,"scale":{"domain":[0.68,11.85],"nice":false,"zero":false},"axis":null},"y":{"field":"y","type":"quantitative","title":null,"scale":{"domain":[0,1.5],"nice":false,"zero":false},"axis":null}},"layer":[
 {"transform":[{"filter":"datum.k=='h'"}],"mark":{"type":"rect","color":"#000","clip":true},"encoding":{"x2":{"field":"x2"},"y2":{"datum":0}}},
 {"transform":[{"filter":"datum.k=='d'"}],"mark":{"type":"line","color":"#000","strokeWidth":1,"clip":true,"interpolate":"monotone"},"encoding":{}},
 {"transform":[{"filter":"datum.k=='l'"}],"mark":{"type":"text","fontSize":15.5,"color":"#222"},"encoding":{"text":{"field":"t"}}}]},
{"width":212,"height":212,"transform":[{"filter":"datum.p=='34'"}],"encoding":{"x":{"field":"x","type":"quantitative","title":null,"scale":{"domain":[1.332,3.047],"nice":false,"zero":false},"axis":null},"y":{"field":"y","type":"quantitative","title":null,"scale":{"domain":[0.68,11.85],"nice":false,"zero":false},"axis":null}},"layer":[
 {"transform":[{"filter":"datum.k=='c'"}],"mark":{"type":"text","color":"#000","dy":1},"encoding":{"text":{"field":"t"},"size":{"field":"a","type":"quantitative","scale":{"domain":[0,1],"range":[0,58]},"legend":null}}}]},
{"width":212,"height":212,"transform":[{"filter":"datum.p=='35'"}],"encoding":{"x":{"field":"x","type":"quantitative","title":null,"scale":{"domain":[11.9,85.7],"nice":false,"zero":false},"axis":null},"y":{"field":"y","type":"quantitative","title":null,"scale":{"domain":[0.68,11.85],"nice":false,"zero":false},"axis":null}},"layer":[
 {"transform":[{"filter":"datum.k=='c'"}],"mark":{"type":"text","color":"#000","dy":4.4},"encoding":{"text":{"field":"t"},"size":{"field":"a","type":"quantitative","scale":{"domain":[0,1],"range":[0,58]},"legend":null}}}]},
{"width":212,"height":212,"transform":[{"filter":"datum.p=='36'"}],"encoding":{"x":{"field":"x","type":"quantitative","title":null,"scale":{"domain":[-12,817],"nice":false,"zero":false},"axis":null},"y":{"field":"y","type":"quantitative","title":null,"scale":{"domain":[0.68,11.85],"nice":false,"zero":false},"axis":{"orient":"right","values":[2,4,6,8,10],"format":"d","labelAngle":-90,"labelAlign":"center","labelBaseline":"top"}}},"layer":[
 {"transform":[{"filter":"datum.k=='c'"}],"mark":{"type":"text","color":"#000"},"encoding":{"text":{"field":"t"},"size":{"field":"a","type":"quantitative","scale":{"domain":[0,1],"range":[0,58]},"legend":null}}}]},

{"width":212,"height":212,"transform":[{"filter":"datum.p=='41'"}],"encoding":{"x":{"field":"x","type":"quantitative","title":null,"scale":{"domain":[-36,1891],"nice":false,"zero":false},"axis":null},"y":{"field":"y","type":"quantitative","title":null,"scale":{"domain":[1.332,3.047],"nice":false,"zero":false},"axis":{"orient":"left","values":[1.5,2,2.5,3],"format":".1f","labelAngle":-90,"labelAlign":"center","labelBaseline":"bottom"}}},"layer":[
 {"transform":[{"filter":"datum.k=='b'"}],"mark":{"type":"area","color":"#d3d3d3","opacity":1,"clip":true,"interpolate":"monotone"},"encoding":{"y2":{"field":"y2"}}},
 {"transform":[{"filter":"datum.k=='e'"}],"mark":{"type":"line","color":"#000","strokeWidth":1,"clip":true,"interpolate":"cardinal-closed"},"encoding":{"order":{"field":"o"}}},
 {"transform":[{"filter":"datum.k=='r'"}],"mark":{"type":"line","color":"#f00","strokeWidth":1,"clip":true},"encoding":{}}]},
{"width":212,"height":212,"transform":[{"filter":"datum.p=='42'"}],"encoding":{"x":{"field":"x","type":"quantitative","title":null,"scale":{"domain":[0.3,144.8],"nice":false,"zero":false},"axis":null},"y":{"field":"y","type":"quantitative","title":null,"scale":{"domain":[1.332,3.047],"nice":false,"zero":false},"axis":null}},"layer":[
 {"transform":[{"filter":"datum.k=='b'"}],"mark":{"type":"area","color":"#d3d3d3","opacity":1,"clip":true,"interpolate":"monotone"},"encoding":{"y2":{"field":"y2"}}},
 {"transform":[{"filter":"datum.k=='e'"}],"mark":{"type":"line","color":"#000","strokeWidth":1,"clip":true,"interpolate":"cardinal-closed"},"encoding":{"order":{"field":"o"}}},
 {"transform":[{"filter":"datum.k=='r'"}],"mark":{"type":"line","color":"#f00","strokeWidth":1,"clip":true},"encoding":{}}]},
{"width":212,"height":212,"transform":[{"filter":"datum.p=='43'"}],"encoding":{"x":{"field":"x","type":"quantitative","title":null,"scale":{"domain":[0.68,11.85],"nice":false,"zero":false},"axis":null},"y":{"field":"y","type":"quantitative","title":null,"scale":{"domain":[1.332,3.047],"nice":false,"zero":false},"axis":null}},"layer":[
 {"transform":[{"filter":"datum.k=='b'"}],"mark":{"type":"area","color":"#d3d3d3","opacity":1,"clip":true,"interpolate":"monotone"},"encoding":{"y2":{"field":"y2"}}},
 {"transform":[{"filter":"datum.k=='e'"}],"mark":{"type":"line","color":"#000","strokeWidth":1,"clip":true,"interpolate":"cardinal-closed"},"encoding":{"order":{"field":"o"}}},
 {"transform":[{"filter":"datum.k=='r'"}],"mark":{"type":"line","color":"#f00","strokeWidth":1,"clip":true},"encoding":{}}]},
{"width":212,"height":212,"transform":[{"filter":"datum.p=='44'"}],"encoding":{"x":{"field":"x","type":"quantitative","title":null,"scale":{"domain":[1.332,3.047],"nice":false,"zero":false},"axis":null},"y":{"field":"y","type":"quantitative","title":null,"scale":{"domain":[0,1.5],"nice":false,"zero":false},"axis":null}},"layer":[
 {"transform":[{"filter":"datum.k=='h'"}],"mark":{"type":"rect","color":"#000","clip":true},"encoding":{"x2":{"field":"x2"},"y2":{"datum":0}}},
 {"transform":[{"filter":"datum.k=='d'"}],"mark":{"type":"line","color":"#000","strokeWidth":1,"clip":true,"interpolate":"monotone"},"encoding":{}},
 {"transform":[{"filter":"datum.k=='l'"}],"mark":{"type":"text","fontSize":15.5,"color":"#222"},"encoding":{"text":{"field":"t"}}}]},
{"width":212,"height":212,"transform":[{"filter":"datum.p=='45'"}],"encoding":{"x":{"field":"x","type":"quantitative","title":null,"scale":{"domain":[11.9,85.7],"nice":false,"zero":false},"axis":null},"y":{"field":"y","type":"quantitative","title":null,"scale":{"domain":[1.332,3.047],"nice":false,"zero":false},"axis":null}},"layer":[
 {"transform":[{"filter":"datum.k=='c'"}],"mark":{"type":"text","color":"#000"},"encoding":{"text":{"field":"t"},"size":{"field":"a","type":"quantitative","scale":{"domain":[0,1],"range":[0,58]},"legend":null}}}]},
{"width":212,"height":212,"transform":[{"filter":"datum.p=='46'"}],"encoding":{"x":{"field":"x","type":"quantitative","title":null,"scale":{"domain":[-12,817],"nice":false,"zero":false},"axis":null},"y":{"field":"y","type":"quantitative","title":null,"scale":{"domain":[1.332,3.047],"nice":false,"zero":false},"axis":null}},"layer":[
 {"transform":[{"filter":"datum.k=='c'"}],"mark":{"type":"text","color":"#000"},"encoding":{"text":{"field":"t"},"size":{"field":"a","type":"quantitative","scale":{"domain":[0,1],"range":[0,58]},"legend":null}}}]},

{"width":212,"height":212,"transform":[{"filter":"datum.p=='51'"}],"encoding":{"x":{"field":"x","type":"quantitative","title":null,"scale":{"domain":[-36,1891],"nice":false,"zero":false},"axis":null},"y":{"field":"y","type":"quantitative","title":null,"scale":{"domain":[11.9,85.7],"nice":false,"zero":false},"axis":null}},"layer":[
 {"transform":[{"filter":"datum.k=='b'"}],"mark":{"type":"area","color":"#d3d3d3","opacity":1,"clip":true,"interpolate":"monotone"},"encoding":{"y2":{"field":"y2"}}},
 {"transform":[{"filter":"datum.k=='e'"}],"mark":{"type":"line","color":"#000","strokeWidth":1,"clip":true,"interpolate":"cardinal-closed"},"encoding":{"order":{"field":"o"}}},
 {"transform":[{"filter":"datum.k=='r'"}],"mark":{"type":"line","color":"#f00","strokeWidth":1,"clip":true},"encoding":{}}]},
{"width":212,"height":212,"transform":[{"filter":"datum.p=='52'"}],"encoding":{"x":{"field":"x","type":"quantitative","title":null,"scale":{"domain":[0.3,144.8],"nice":false,"zero":false},"axis":null},"y":{"field":"y","type":"quantitative","title":null,"scale":{"domain":[11.9,85.7],"nice":false,"zero":false},"axis":null}},"layer":[
 {"transform":[{"filter":"datum.k=='b'"}],"mark":{"type":"area","color":"#d3d3d3","opacity":1,"clip":true,"interpolate":"monotone"},"encoding":{"y2":{"field":"y2"}}},
 {"transform":[{"filter":"datum.k=='e'"}],"mark":{"type":"line","color":"#000","strokeWidth":1,"clip":true,"interpolate":"cardinal-closed"},"encoding":{"order":{"field":"o"}}},
 {"transform":[{"filter":"datum.k=='r'"}],"mark":{"type":"line","color":"#f00","strokeWidth":1,"clip":true},"encoding":{}}]},
{"width":212,"height":212,"transform":[{"filter":"datum.p=='53'"}],"encoding":{"x":{"field":"x","type":"quantitative","title":null,"scale":{"domain":[0.68,11.85],"nice":false,"zero":false},"axis":null},"y":{"field":"y","type":"quantitative","title":null,"scale":{"domain":[11.9,85.7],"nice":false,"zero":false},"axis":null}},"layer":[
 {"transform":[{"filter":"datum.k=='b'"}],"mark":{"type":"area","color":"#d3d3d3","opacity":1,"clip":true,"interpolate":"monotone"},"encoding":{"y2":{"field":"y2"}}},
 {"transform":[{"filter":"datum.k=='e'"}],"mark":{"type":"line","color":"#000","strokeWidth":1,"clip":true,"interpolate":"cardinal-closed"},"encoding":{"order":{"field":"o"}}},
 {"transform":[{"filter":"datum.k=='r'"}],"mark":{"type":"line","color":"#f00","strokeWidth":1,"clip":true},"encoding":{}}]},
{"width":212,"height":212,"transform":[{"filter":"datum.p=='54'"}],"encoding":{"x":{"field":"x","type":"quantitative","title":null,"scale":{"domain":[1.332,3.047],"nice":false,"zero":false},"axis":null},"y":{"field":"y","type":"quantitative","title":null,"scale":{"domain":[11.9,85.7],"nice":false,"zero":false},"axis":null}},"layer":[
 {"transform":[{"filter":"datum.k=='b'"}],"mark":{"type":"area","color":"#d3d3d3","opacity":1,"clip":true,"interpolate":"monotone"},"encoding":{"y2":{"field":"y2"}}},
 {"transform":[{"filter":"datum.k=='e'"}],"mark":{"type":"line","color":"#000","strokeWidth":1,"clip":true,"interpolate":"cardinal-closed"},"encoding":{"order":{"field":"o"}}},
 {"transform":[{"filter":"datum.k=='r'"}],"mark":{"type":"line","color":"#f00","strokeWidth":1,"clip":true},"encoding":{}}]},
{"width":212,"height":212,"transform":[{"filter":"datum.p=='55'"}],"encoding":{"x":{"field":"x","type":"quantitative","title":null,"scale":{"domain":[11.9,85.7],"nice":false,"zero":false},"axis":null},"y":{"field":"y","type":"quantitative","title":null,"scale":{"domain":[0,1.5],"nice":false,"zero":false},"axis":null}},"layer":[
 {"transform":[{"filter":"datum.k=='h'"}],"mark":{"type":"rect","color":"#000","clip":true},"encoding":{"x2":{"field":"x2"},"y2":{"datum":0}}},
 {"transform":[{"filter":"datum.k=='d'"}],"mark":{"type":"line","color":"#000","strokeWidth":1,"clip":true,"interpolate":"monotone"},"encoding":{}},
 {"transform":[{"filter":"datum.k=='l'"}],"mark":{"type":"text","fontSize":15.5,"color":"#222"},"encoding":{"text":{"field":"t"}}}]},
{"width":212,"height":212,"transform":[{"filter":"datum.p=='56'"}],"encoding":{"x":{"field":"x","type":"quantitative","title":null,"scale":{"domain":[-12,817],"nice":false,"zero":false},"axis":null},"y":{"field":"y","type":"quantitative","title":null,"scale":{"domain":[11.9,85.7],"nice":false,"zero":false},"axis":{"orient":"right","values":[20,30,40,50,60,70,80],"format":"d","labelAngle":-90,"labelAlign":"center","labelBaseline":"top"}}},"layer":[
 {"transform":[{"filter":"datum.k=='c'"}],"mark":{"type":"text","color":"#000","dy":2},"encoding":{"text":{"field":"t"},"size":{"field":"a","type":"quantitative","scale":{"domain":[0,1],"range":[0,58]},"legend":null}}}]},

{"width":212,"height":212,"transform":[{"filter":"datum.p=='61'"}],"encoding":{"x":{"field":"x","type":"quantitative","title":null,"scale":{"domain":[-36,1891],"nice":false,"zero":false},"axis":{"orient":"bottom","values":[0,500,1000,1500],"format":"d"}},"y":{"field":"y","type":"quantitative","title":null,"scale":{"domain":[-12,817],"nice":false,"zero":false},"axis":{"orient":"left","values":[0,200,400,600,800],"format":"d","labelAngle":-90,"labelAlign":"center","labelBaseline":"bottom"}}},"layer":[
 {"transform":[{"filter":"datum.k=='b'"}],"mark":{"type":"area","color":"#d3d3d3","opacity":1,"clip":true,"interpolate":"monotone"},"encoding":{"y2":{"field":"y2"}}},
 {"transform":[{"filter":"datum.k=='e'"}],"mark":{"type":"line","color":"#000","strokeWidth":1,"clip":true,"interpolate":"cardinal-closed"},"encoding":{"order":{"field":"o"}}},
 {"transform":[{"filter":"datum.k=='r'"}],"mark":{"type":"line","color":"#f00","strokeWidth":1,"clip":true},"encoding":{}}]},
{"width":212,"height":212,"transform":[{"filter":"datum.p=='62'"}],"encoding":{"x":{"field":"x","type":"quantitative","title":null,"scale":{"domain":[0.3,144.8],"nice":false,"zero":false},"axis":null},"y":{"field":"y","type":"quantitative","title":null,"scale":{"domain":[-12,817],"nice":false,"zero":false},"axis":null}},"layer":[
 {"transform":[{"filter":"datum.k=='b'"}],"mark":{"type":"area","color":"#d3d3d3","opacity":1,"clip":true,"interpolate":"monotone"},"encoding":{"y2":{"field":"y2"}}},
 {"transform":[{"filter":"datum.k=='e'"}],"mark":{"type":"line","color":"#000","strokeWidth":1,"clip":true,"interpolate":"cardinal-closed"},"encoding":{"order":{"field":"o"}}},
 {"transform":[{"filter":"datum.k=='r'"}],"mark":{"type":"line","color":"#f00","strokeWidth":1,"clip":true},"encoding":{}}]},
{"width":212,"height":212,"transform":[{"filter":"datum.p=='63'"}],"encoding":{"x":{"field":"x","type":"quantitative","title":null,"scale":{"domain":[0.68,11.85],"nice":false,"zero":false},"axis":{"orient":"bottom","values":[2,4,6,8,10],"format":"d"}},"y":{"field":"y","type":"quantitative","title":null,"scale":{"domain":[-12,817],"nice":false,"zero":false},"axis":null}},"layer":[
 {"transform":[{"filter":"datum.k=='b'"}],"mark":{"type":"area","color":"#d3d3d3","opacity":1,"clip":true,"interpolate":"monotone"},"encoding":{"y2":{"field":"y2"}}},
 {"transform":[{"filter":"datum.k=='e'"}],"mark":{"type":"line","color":"#000","strokeWidth":1,"clip":true,"interpolate":"cardinal-closed"},"encoding":{"order":{"field":"o"}}},
 {"transform":[{"filter":"datum.k=='r'"}],"mark":{"type":"line","color":"#f00","strokeWidth":1,"clip":true},"encoding":{}}]},
{"width":212,"height":212,"transform":[{"filter":"datum.p=='64'"}],"encoding":{"x":{"field":"x","type":"quantitative","title":null,"scale":{"domain":[1.332,3.047],"nice":false,"zero":false},"axis":null},"y":{"field":"y","type":"quantitative","title":null,"scale":{"domain":[-12,817],"nice":false,"zero":false},"axis":null}},"layer":[
 {"transform":[{"filter":"datum.k=='b'"}],"mark":{"type":"area","color":"#d3d3d3","opacity":1,"clip":true,"interpolate":"monotone"},"encoding":{"y2":{"field":"y2"}}},
 {"transform":[{"filter":"datum.k=='e'"}],"mark":{"type":"line","color":"#000","strokeWidth":1,"clip":true,"interpolate":"cardinal-closed"},"encoding":{"order":{"field":"o"}}},
 {"transform":[{"filter":"datum.k=='r'"}],"mark":{"type":"line","color":"#f00","strokeWidth":1,"clip":true},"encoding":{}}]},
{"width":212,"height":212,"transform":[{"filter":"datum.p=='65'"}],"encoding":{"x":{"field":"x","type":"quantitative","title":null,"scale":{"domain":[11.9,85.7],"nice":false,"zero":false},"axis":{"orient":"bottom","values":[20,30,40,50,60,70,80],"format":"d"}},"y":{"field":"y","type":"quantitative","title":null,"scale":{"domain":[-12,817],"nice":false,"zero":false},"axis":null}},"layer":[
 {"transform":[{"filter":"datum.k=='b'"}],"mark":{"type":"area","color":"#d3d3d3","opacity":1,"clip":true,"interpolate":"monotone"},"encoding":{"y2":{"field":"y2"}}},
 {"transform":[{"filter":"datum.k=='e'"}],"mark":{"type":"line","color":"#000","strokeWidth":1,"clip":true,"interpolate":"cardinal-closed"},"encoding":{"order":{"field":"o"}}},
 {"transform":[{"filter":"datum.k=='r'"}],"mark":{"type":"line","color":"#f00","strokeWidth":1,"clip":true},"encoding":{}}]},
{"width":212,"height":212,"transform":[{"filter":"datum.p=='66'"}],"encoding":{"x":{"field":"x","type":"quantitative","title":null,"scale":{"domain":[-12,817],"nice":false,"zero":false},"axis":null},"y":{"field":"y","type":"quantitative","title":null,"scale":{"domain":[0,1.5],"nice":false,"zero":false},"axis":null}},"layer":[
 {"transform":[{"filter":"datum.k=='h'"}],"mark":{"type":"rect","color":"#000","clip":true},"encoding":{"x2":{"field":"x2"},"y2":{"datum":0}}},
 {"transform":[{"filter":"datum.k=='d'"}],"mark":{"type":"line","color":"#000","strokeWidth":1,"clip":true,"interpolate":"monotone"},"encoding":{}},
 {"transform":[{"filter":"datum.k=='l'"}],"mark":{"type":"text","fontSize":15.5,"color":"#222"},"encoding":{"text":{"field":"t"}}}]}
],
"config":{
 "view":{"stroke":"#444","strokeWidth":1},
 "font":"Liberation Sans",
 "text":{"font":"Liberation Sans"},
 "axis":{"grid":false,"domain":false,"tickSize":5,"tickColor":"#222","tickWidth":1,"labelFontSize":7,"labelFont":"Liberation Sans","labelColor":"#333","labelOverlap":false,"labelFlush":false},
 "axisX":{"labelPadding":4},
 "axisY":{"labelPadding":6}
}
}
